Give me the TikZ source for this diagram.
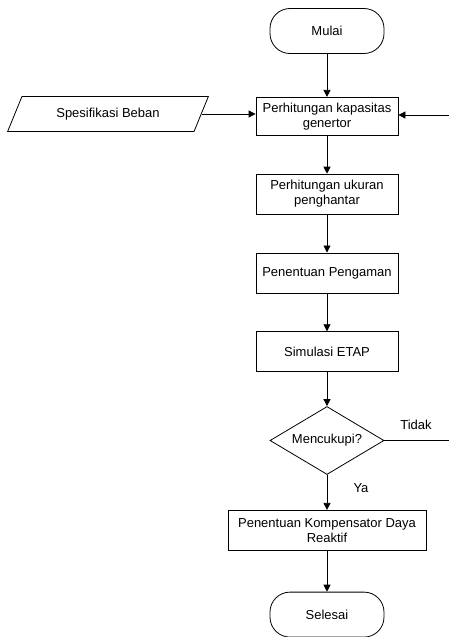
\documentclass[tikz,border=0pt]{standalone}
\usepackage{fontspec}
\setmainfont{Liberation Sans}
\usetikzlibrary{positioning, calc, arrows.meta, shapes.geometric}
\tikzset{
	proses/.style={draw, rectangle, minimum width=142pt, minimum height=40pt, align=center, inner sep=2pt},
	terminal/.style={draw, rounded corners=20pt, minimum width=114pt, minimum height=45pt},
	keputusan/.style={draw, diamond, shape aspect=1.68, minimum width=114pt, minimum height=68pt, inner sep=0pt},
	masukan/.style={draw, trapezium, trapezium left angle=64, trapezium right angle=116, trapezium stretches=true, minimum width=201pt, minimum height=35pt},
	panah/.style={-{Triangle[length=7pt, width=7pt]}},
}

\begin{document}
\begin{tikzpicture}[x=1pt, y=-1pt, line width=0.8pt, font=\fontsize{13}{15}\selectfont]
			\useasboundingbox (0,0) rectangle (449,637);
			\node[terminal] (mulai) at (327,31) {Mulai};
			\node[proses, minimum height=38pt, below=43pt of mulai] (b1) {Perhitungan kapasitas\\genertor};
			\node[proses, below=38pt of b1] (b2) {Perhitungan ukuran\\penghantar};
			\node[proses, below=38pt of b2] (b3) {Penentuan Pengaman};
			\node[proses, below=38pt of b3] (b4) {Simulasi ETAP};
			\node[keputusan, below=34pt of b4] (dec) {Mencukupi?};
			\node[proses, minimum width=198pt, below=35pt of dec] (b5) {Penentuan Kompensator Daya\\Reaktif};
			\node[terminal, below=41pt of b5] (sel) {Selesai};
			\node[masukan] (spek) at (108,114) {Spesifikasi Beban};
			
			% ujung garis balik di tepi kanan
			\coordinate (kanan1) at (449,115);
			\coordinate (kanan2) at (449,442);
			
			\node (tidak) at (416,425) {Tidak};
			\node (ya) at (361,488) {Ya};
			
			\draw[panah] (mulai) -- (b1);
			\draw[panah] (b1) -- (b2);
			\draw[panah] (b2) -- (b3);
			\draw[panah] (b3) -- (b4);
			\draw[panah] (b4) -- (dec);
			\draw[panah] (dec) -- (b5);
			\draw[panah] (b5) -- (sel);
			\draw[panah] (spek.east) -- (spek.east -| b1.west);
			\draw[panah] (kanan1) -- (kanan1 -| b1.east);
			\draw (dec.east) -- (dec.east -| kanan2);
		\end{tikzpicture}
\end{document}
